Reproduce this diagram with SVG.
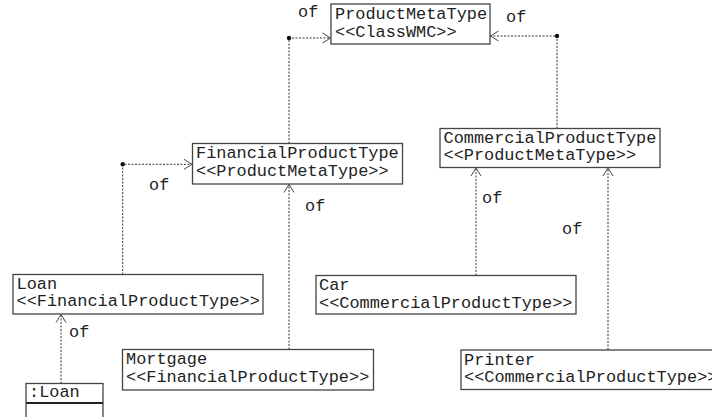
<svg xmlns="http://www.w3.org/2000/svg" width="712" height="417" viewBox="0 0 712 417">
  <style>
    .box { fill: #fff; stroke: #444; stroke-width: 1.3; }
    .t { font-family: "Liberation Mono", "Courier New", monospace; font-size: 16.9px; fill: #222; }
    .dep { fill: none; stroke: #333; stroke-width: 1; stroke-dasharray: 2 1.5; }
    .dot { fill: #111; }
  </style>
  <defs>
    <marker id="open" markerUnits="userSpaceOnUse" markerWidth="12" markerHeight="12" refX="9" refY="6" orient="auto">
      <path d="M1,1 L9,6 L1,11" fill="none" stroke="#444" stroke-width="1"/>
    </marker>
  </defs>
  <rect width="712" height="417" fill="#fff"/>

  <!-- connectors -->
  <g id="connectors">
    <path class="dep" d="M122.7,274.5 V164.3 H192" marker-end="url(#open)"/>
    <circle class="dot" cx="122.7" cy="164.3" r="2.2"/>
    <text class="t" x="149" y="190">of</text>

    <path class="dep" d="M289,143.5 V38 H330.5" marker-end="url(#open)"/>
    <circle class="dot" cx="289" cy="38" r="2.2"/>
    <text class="t" x="298" y="17">of</text>

    <path class="dep" d="M557,128.5 V36 H490.5" marker-end="url(#open)"/>
    <circle class="dot" cx="557" cy="36" r="2.2"/>
    <text class="t" x="506" y="22">of</text>

    <path class="dep" d="M289,349.5 V184.5" marker-end="url(#open)"/>
    <text class="t" x="305" y="211">of</text>

    <path class="dep" d="M476,275.5 V168" marker-end="url(#open)"/>
    <text class="t" x="482" y="203">of</text>

    <path class="dep" d="M608,350 V168" marker-end="url(#open)"/>
    <text class="t" x="562" y="233.5">of</text>

    <path class="dep" d="M61,383.5 V314.5" marker-end="url(#open)"/>
    <text class="t" x="69" y="337">of</text>
  </g>

  <g id="ProductMetaType">
    <rect class="box" x="331" y="4" width="159" height="40"/>
    <text class="t" x="335" y="18.5">ProductMetaType</text>
    <text class="t" x="335" y="36.5">&lt;&lt;ClassWMC&gt;&gt;</text>
  </g>

  <g id="FinancialProductType">
    <rect class="box" x="192.5" y="143.5" width="210" height="40.5"/>
    <text class="t" x="196" y="157.5">FinancialProductType</text>
    <text class="t" x="196" y="175.5">&lt;&lt;ProductMetaType&gt;&gt;</text>
  </g>

  <g id="CommercialProductType">
    <rect class="box" x="440" y="128.5" width="220" height="39"/>
    <text class="t" x="443.5" y="142.5">CommercialProductType</text>
    <text class="t" x="443.5" y="160">&lt;&lt;ProductMetaType&gt;&gt;</text>
  </g>

  <g id="Loan">
    <rect class="box" x="13" y="274.5" width="250" height="39.5"/>
    <text class="t" x="16.5" y="288.5">Loan</text>
    <text class="t" x="16.5" y="306">&lt;&lt;FinancialProductType&gt;&gt;</text>
  </g>

  <g id="Car">
    <rect class="box" x="316" y="275.5" width="260" height="38.5"/>
    <text class="t" x="319" y="290">Car</text>
    <text class="t" x="319" y="307.5">&lt;&lt;CommercialProductType&gt;&gt;</text>
  </g>

  <g id="Mortgage">
    <rect class="box" x="122.5" y="349.5" width="251" height="40.5"/>
    <text class="t" x="126" y="364">Mortgage</text>
    <text class="t" x="126" y="382">&lt;&lt;FinancialProductType&gt;&gt;</text>
  </g>

  <g id="Printer">
    <rect class="box" x="461" y="350" width="262" height="39.5"/>
    <text class="t" x="464" y="364.5">Printer</text>
    <text class="t" x="464" y="382">&lt;&lt;CommercialProductType&gt;&gt;</text>
  </g>

  <g id="LoanInstance">
    <rect class="box" x="26" y="383.5" width="77" height="40"/>
    <line x1="26" y1="403" x2="103" y2="403" stroke="#222" stroke-width="2"/>
    <text class="t" x="29" y="397">:Loan</text>
  </g>
</svg>
